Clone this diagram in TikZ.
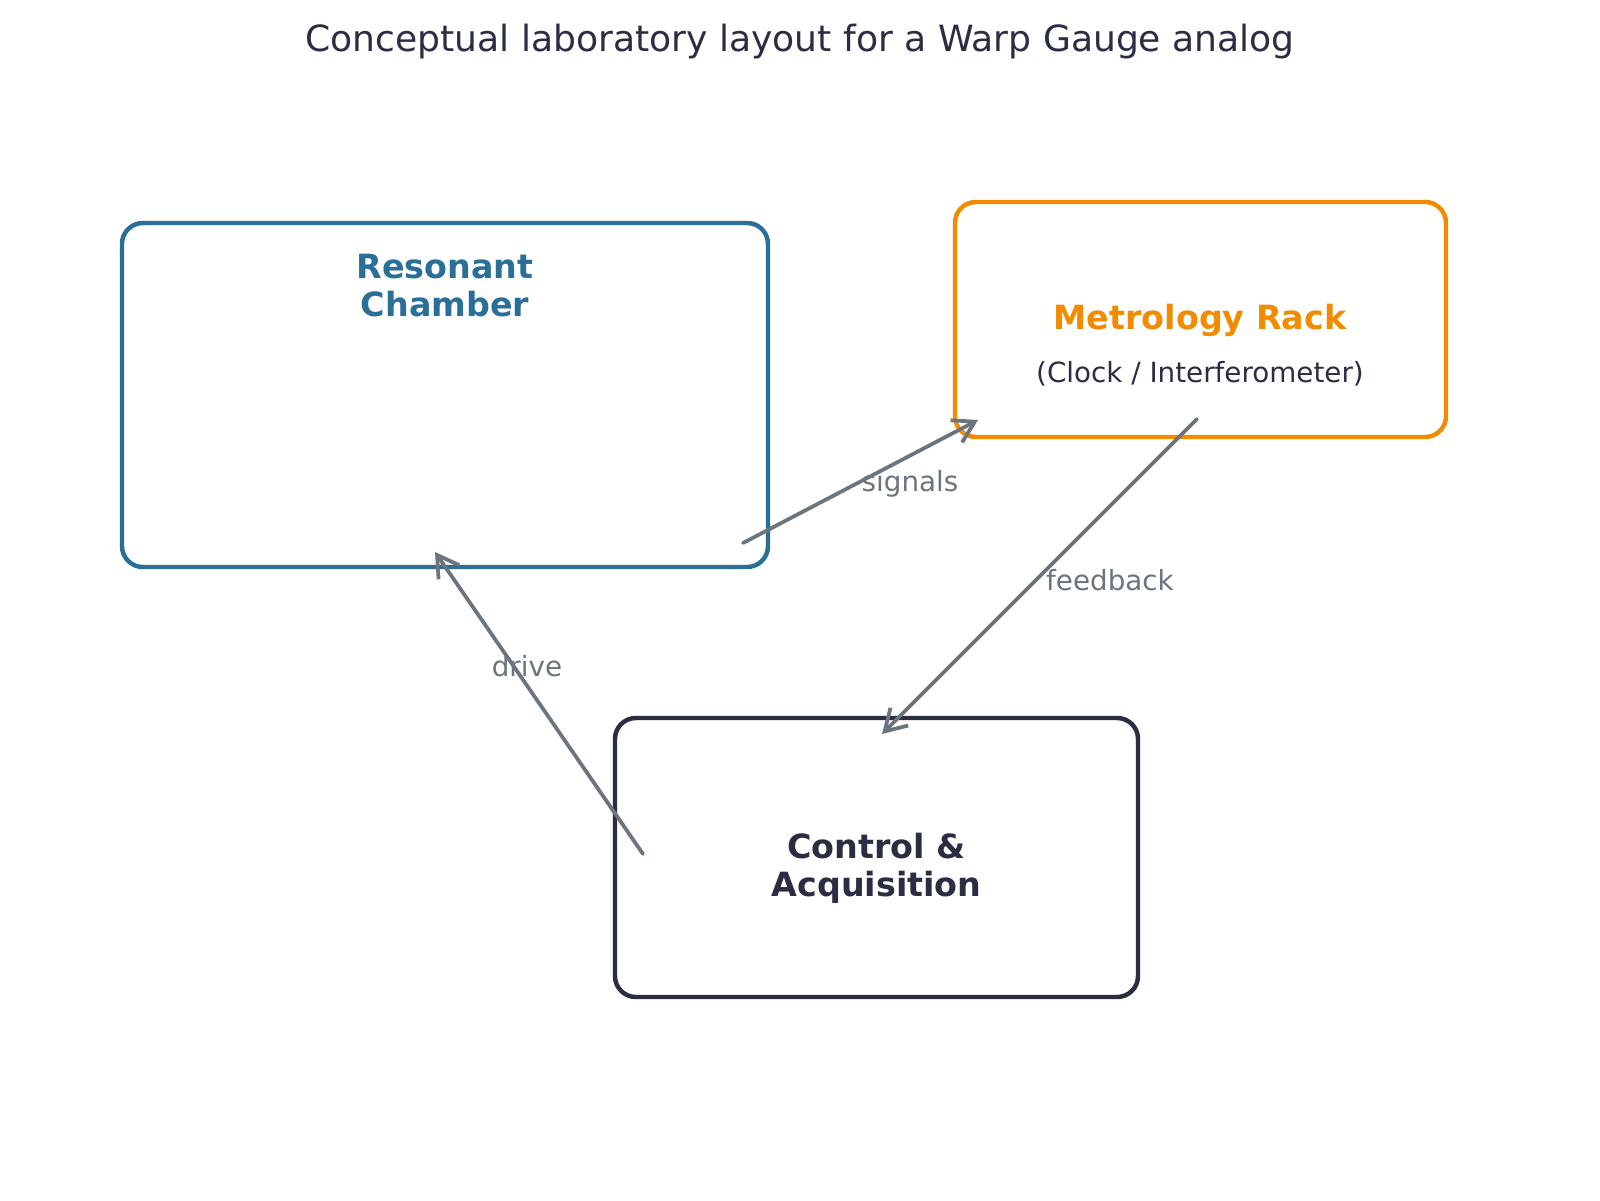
\documentclass[tikz,border=0pt]{standalone}
\usepackage{fontspec}
\setmainfont{DejaVu Sans}
\usetikzlibrary{arrows.meta}
\definecolor{chblue}{HTML}{2A6F97}
\definecolor{rackorange}{HTML}{F18B00}
\definecolor{navy}{HTML}{2B2D42}
\definecolor{arrowgray}{HTML}{6C757D}
\tikzset{
  box/.style={draw, rectangle, rounded corners=7.5pt, line width=1.6pt, inner sep=0pt, fill=white},
  boxlabel/.style={font=\bfseries\fontsize{12}{13.7}\selectfont, align=center, inner sep=0pt},
  edgelabel/.style={font=\fontsize{10}{12}\selectfont, text=arrowgray, inner sep=0pt},
  flow/.style={draw=arrowgray, line width=1.35pt, line cap=round, -{Straight Barb[length=7.5pt,width=9pt,line width=1.35pt]}}
}
\begin{document}
\begin{tikzpicture}[x=0.36pt,y=-0.36pt]
\useasboundingbox[fill=white] (0,0) rectangle (1600,1200);
\node[font=\fontsize{13}{15.6}\selectfont, text=navy, inner sep=0pt] (title) at (800,42) {Conceptual laboratory layout for a Warp Gauge analog};
% boxes
\node[box, draw=chblue, minimum width=232.56pt, minimum height=123.84pt] (chamber) at (445,395) {};
\node[box, draw=rackorange, minimum width=176.76pt, minimum height=84.6pt] (rack) at (1200.5,319.5) {};
\node[box, draw=navy, minimum width=188.28pt, minimum height=100.44pt] (control) at (876.5,857.5) {};
% labels
\node[boxlabel, text=chblue] (chamberlabel) at (445,286) {Resonant\\Chamber};
\node[boxlabel, text=rackorange] (racklabel) at (1200,320) {Metrology Rack};
\node[font=\fontsize{10}{12}\selectfont, text=navy, inner sep=0pt] (racksub) at (1200,374) {(Clock / Interferometer)};
\node[boxlabel, text=navy] (controllabel) at (876.5,868) {Control \&\\Acquisition};
% connector end points
\coordinate (sigS) at (743,543);
\coordinate (sigE) at (978,420);
\coordinate (fbS) at (1197,419);
\coordinate (fbE) at (882,734);
\coordinate (drS) at (643,854);
\coordinate (drE) at (435,552);
\draw[flow] (sigS) -- (sigE);
\draw[flow] (fbS) -- (fbE);
\draw[flow] (drS) -- (drE);
\node[edgelabel] (siglabel) at (910,484) {signals};
\node[edgelabel] (fblabel) at (1110,580) {feedback};
\node[edgelabel] (drlabel) at (527,666) {drive};
\end{tikzpicture}
\end{document}
